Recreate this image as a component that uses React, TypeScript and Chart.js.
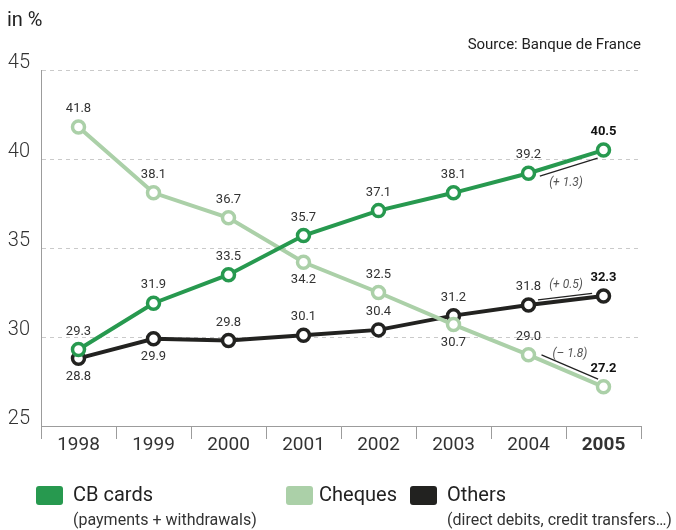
import React, { useEffect, useRef } from "react";
import { Chart, registerables } from "chart.js";

Chart.register(...registerables);

const years = ["1998", "1999", "2000", "2001", "2002", "2003", "2004", "2005"];
const cbCards = [29.3, 31.9, 33.5, 35.7, 37.1, 38.1, 39.2, 40.5];
const cheques = [41.8, 38.1, 36.7, 34.2, 32.5, 30.7, 29.0, 27.2];
const others = [28.8, 29.9, 29.8, 30.1, 30.4, 31.2, 31.8, 32.3];

// label placement: "a" above the point, "b" below
const cbLabelSide = ["a", "a", "a", "a", "a", "a", "a", "a"];
const chequesLabelSide = ["a", "a", "a", "b", "a", "b", "a", "a"];
const othersLabelSide = ["b", "b", "a", "a", "a", "a", "a", "a"];

const cbChange = "(+ 1.3)";
const chequesChange = "(\u2013 1.8)";
const othersChange = "(+ 0.5)";

const yTicks = [25, 30, 35, 40, 45];

const FONT = "Roboto, 'DejaVu Sans', sans-serif";
const CB_COLOR = "#27994f";
const CHEQUES_COLOR = "#abd0a8";
const OTHERS_COLOR = "#222220";
const AXIS_COLOR = "#9c9c9c";
const TEXT_COLOR = "#333333";

export default function App() {
  const ref = useRef<HTMLCanvasElement | null>(null);

  useEffect(() => {
    document.body.style.margin = "0";
    const canvas = ref.current;
    if (!canvas) return;

    const series = [
      { values: cbCards, sides: cbLabelSide },
      { values: cheques, sides: chequesLabelSide },
      { values: others, sides: othersLabelSide },
    ];

    const changeNotes = [
      { values: cbCards, text: cbChange, perp: 6, side: 1, trimA: 10, trimB: 8, tdx: 0, tdy: 21 },
      { values: others, text: othersChange, perp: 4, side: -1, trimA: 10, trimB: 11, tdx: 0, tdy: -16 },
      { values: cheques, text: chequesChange, perp: 5, side: -1, trimA: 12, trimB: 8, tdx: 4, tdy: -17 },
    ];

    const overlay = {
      id: "overlay",
      afterDatasetsDraw(chart: any) {
        const ctx = chart.ctx as CanvasRenderingContext2D;
        const xs = chart.scales.x;
        const ys = chart.scales.y;
        ctx.save();
        ctx.textAlign = "center";
        ctx.textBaseline = "middle";
        series.forEach((s) => {
          s.values.forEach((v, i) => {
            const last = i === s.values.length - 1;
            const x = xs.getPixelForValue(i);
            const y = ys.getPixelForValue(v);
            const dy = s.sides[i] === "b" ? 18 : -18;
            ctx.font = `${last ? "bold " : ""}13px ${FONT}`;
            ctx.fillStyle = last ? "#111111" : TEXT_COLOR;
            ctx.fillText(v.toFixed(1), x, y + dy);
          });
        });

        // change annotations between last two years
        changeNotes.forEach((n) => {
          const i = n.values.length - 2;
          const x1 = xs.getPixelForValue(i);
          const y1 = ys.getPixelForValue(n.values[i]);
          const x2 = xs.getPixelForValue(i + 1);
          const y2 = ys.getPixelForValue(n.values[i + 1]);
          const len = Math.hypot(x2 - x1, y2 - y1);
          const dx = (x2 - x1) / len;
          const dyn = (y2 - y1) / len;
          let px = -dyn;
          let py = dx;
          if (py < 0) {
            px = -px;
            py = -py;
          }
          const o = n.perp * n.side;
          ctx.beginPath();
          ctx.moveTo(x1 + dx * n.trimA + px * o, y1 + dyn * n.trimA + py * o);
          ctx.lineTo(x2 - dx * n.trimB + px * o, y2 - dyn * n.trimB + py * o);
          ctx.strokeStyle = "#222222";
          ctx.lineWidth = 1.3;
          ctx.stroke();
          ctx.font = `italic 12px ${FONT}`;
          ctx.fillStyle = "#555555";
          ctx.fillText(n.text, (x1 + x2) / 2 + n.tdx, (y1 + y2) / 2 + n.tdy);
        });
        ctx.restore();
      },
      afterDraw(chart: any) {
        const ctx = chart.ctx as CanvasRenderingContext2D;
        ctx.save();
        ctx.textBaseline = "middle";
        ctx.fillStyle = "#222222";
        ctx.textAlign = "left";
        ctx.font = `20px ${FONT}`;
        ctx.fillText("in %", 7, 21);
        ctx.textAlign = "right";
        ctx.font = `15px ${FONT}`;
        ctx.fillStyle = "#222222";
        ctx.fillText("Source: Banque de France", 641, 45);

        const items = [
          { color: CB_COLOR, label: "CB cards", sq: 36, tx: 73, sub: "(payments + withdrawals)", subX: 73 },
          { color: CHEQUES_COLOR, label: "Cheques", sq: 286, tx: 319, sub: "", subX: 0 },
          { color: OTHERS_COLOR, label: "Others", sq: 410, tx: 447, sub: "(direct debits, credit transfers\u2026)", subX: 447 },
        ];
        items.forEach((it) => {
          ctx.fillStyle = it.color;
          ctx.beginPath();
          (ctx as any).roundRect(it.sq, 486, 27, 19, 3);
          ctx.fill();
          ctx.fillStyle = "#222222";
          ctx.textAlign = "left";
          ctx.font = `20px ${FONT}`;
          ctx.fillText(it.label, it.tx, 496);
          if (it.sub) {
            ctx.font = `16px ${FONT}`;
            ctx.fillStyle = "#333333";
            ctx.fillText(it.sub, it.subX, 521);
          }
        });
        ctx.restore();
      },
    };

    const chart = new Chart(canvas, {
      type: "line",
      data: {
        labels: years,
        datasets: [
          {
            label: "CB cards",
            data: cbCards,
            borderColor: CB_COLOR,
            pointBorderColor: CB_COLOR,
            order: 0,
          },
          {
            label: "Cheques",
            data: cheques,
            borderColor: CHEQUES_COLOR,
            pointBorderColor: CHEQUES_COLOR,
            order: 1,
          },
          {
            label: "Others",
            data: others,
            borderColor: OTHERS_COLOR,
            pointBorderColor: OTHERS_COLOR,
            order: 2,
          },
        ].map((d) => ({
          ...d,
          borderWidth: 4,
          pointRadius: 6,
          pointBorderWidth: 3.5,
          pointBackgroundColor: "#ffffff",
          tension: 0,
          clip: false as any,
        })),
      },
      options: {
        animation: false,
        responsive: false,
        events: [],
        layout: { padding: { top: 70, right: 35, left: 0, bottom: 0 } },
        plugins: {
          legend: { display: false },
          tooltip: { enabled: false },
          title: { display: false },
        },
        scales: {
          x: {
            type: "category",
            offset: true,
            afterFit: (scale: any) => {
              scale.height = 104;
            },
            grid: {
              display: true,
              offset: true,
              drawOnChartArea: false,
              drawTicks: true,
              tickLength: 13,
              color: AXIS_COLOR,
              lineWidth: 1,
            },
            border: { display: true, color: AXIS_COLOR, width: 1 },
            ticks: {
              padding: -5,
              color: TEXT_COLOR,
              maxRotation: 0,
              autoSkip: false,
              font: (c: any) =>
                c.index === years.length - 1
                  ? { family: FONT, size: 19, weight: "bold" }
                  : { family: FONT, size: 19, weight: "normal" },
            },
          },
          y: {
            min: 25,
            max: 45,
            afterFit: (scale: any) => {
              scale.width = 41;
            },
            afterBuildTicks: (scale: any) => {
              scale.ticks = yTicks.map((v) => ({ value: v }));
            },
            grid: {
              color: "#cacaca",
              lineWidth: 1,
              drawTicks: false,
            },
            border: { display: true, color: AXIS_COLOR, width: 1, dash: [4, 4] },
            ticks: {
              padding: 11,
              labelOffset: -7,
              color: TEXT_COLOR,
              font: { family: FONT, size: 20, weight: "300" as any },
            },
          },
        },
      },
      plugins: [overlay],
    });

    return () => chart.destroy();
  }, []);

  return (
    <div style={{ width: 676, height: 530, position: "relative", background: "#fff" }}>
      <canvas ref={ref} width={676} height={530} style={{ display: "block", width: 676, height: 530 }} />
    </div>
  );
}
